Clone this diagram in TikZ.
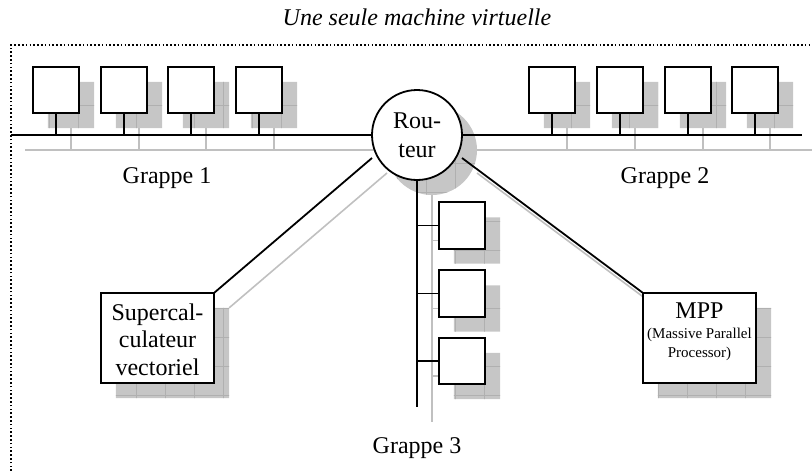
\documentclass[tikz,border=0pt]{standalone}
\usepackage{fontspec}
\setmainfont{Liberation Serif}
\usetikzlibrary{calc}
\definecolor{shfill}{RGB}{198,198,198}
\definecolor{shgrid}{RGB}{176,176,176}
\definecolor{shln}{RGB}{192,192,192}
\begin{document}
\begin{tikzpicture}[x=1pt,y=-1pt,
  pc/.style={draw=none, fill=none, minimum width=46pt, minimum height=46pt, inner sep=0pt},
  bigbox/.style={draw=none, fill=none, minimum width=113pt, minimum height=90pt, inner sep=0pt},
  bline/.style={draw=black, line width=1.8pt},
  outl/.style={draw=black, line width=1.8pt, fill=white},
  sline/.style={draw=shln, line width=1.6pt},
  lbl/.style={font=\fontsize{24}{28}\selectfont, inner sep=0pt, anchor=base},
  frame/.style={draw=black, line width=1.6pt, dash pattern=on 1.6pt off 2.2pt}]
\useasboundingbox (0,0) rectangle (812,471);

% coordinates
\coordinate (g1start) at (11,135);
\coordinate (g2end) at (802,135);
\coordinate (g3end) at (417,407);
\coordinate (rl) at (372,158);
\coordinate (rr) at (462,158);
\coordinate (fbl) at (11,471);
\coordinate (ftl) at (11,45);
\coordinate (ftr) at (812,45);

% node positions
\path
  (56,90) node[pc] (a1) {}
  (124,90) node[pc] (a2) {}
  (191,90) node[pc] (a3) {}
  (259,90) node[pc] (a4) {}
  (552,90) node[pc] (b1) {}
  (620,90) node[pc] (b2) {}
  (688,90) node[pc] (b3) {}
  (755,90) node[pc] (b4) {}
  (462,225.5) node[pc] (c1) {}
  (462,293.5) node[pc] (c2) {}
  (462,361) node[pc] (c3) {}
  (417,135) node[circle, minimum size=90pt, inner sep=0pt] (router) {}
  (157.5,338) node[bigbox] (super) {}
  (699.5,338) node[bigbox] (mpp) {};

% ---- shadows: lines
\draw[sline] ($(g1start)+(14,15)$) -- ($(router)+(15,15)$);
\draw[sline] ($(router)+(15,15)$) -- ($(g2end)+(15,15)$) -- ++(10,0);
\draw[sline] ($(router)+(15,15)$) -- ($(g3end)+(15,15)$);
\foreach \n in {a1,a2,a3,a4,b1,b2,b3,b4}
  \draw[sline] ($(\n.south)+(15,15)$) -- ($(\n.south)+(15,37)$);
\foreach \n in {c1,c2,c3}
  \draw[sline] ($(\n.west)+(-7,15)$) -- ($(\n.west)+(15,15)$);
\draw[sline] ($(super.north east)+(15,15)$) -- ($(rl)+(15,15)$);
\draw[sline] ($(mpp.north west)+(15,15)$) -- ($(rr)+(15,15)$);

% ---- shadows: textured fills
\begin{scope}
  \clip \foreach \n in {a1,a2,a3,a4,b1,b2,b3,b4,c1,c2,c3} {
      ($(\n.north west)+(15,15)$) rectangle ($(\n.south east)+(15,15)$) }
      ($(super.north west)+(15,15)$) rectangle ($(super.south east)+(15,15)$)
      ($(mpp.north west)+(15,15)$) rectangle ($(mpp.south east)+(15,15)$)
      ($(router)+(15,15)$) circle[radius=45];
  \fill[shfill] (0,0) rectangle (812,471);
  \foreach \i in {0,...,27} \draw[shgrid, line width=0.7pt] (20+29*\i,0) -- (20+29*\i,471);
  \foreach \i in {0,...,16} \draw[shgrid, line width=0.7pt] (0,18+29*\i) -- (812,18+29*\i);
\end{scope}

% ---- frame
\draw[frame] (fbl) -- (ftl) -- (ftr);

% ---- main lines
\draw[bline] (g1start) -- (router);
\draw[bline] (router) -- (g2end);
\draw[bline] (router) -- (g3end);
\foreach \n in {a1,a2,a3,a4,b1,b2,b3,b4}
  \draw[bline] (\n.south) -- (\n.south |- router);
\foreach \n in {c1,c2,c3}
  \draw[bline] (\n.west) -- (\n.west -| router);
\draw[bline] (super.north east) -- (rl);
\draw[bline] (mpp.north west) -- (rr);

% ---- boxes
\foreach \n in {a1,a2,a3,a4,b1,b2,b3,b4,c1,c2,c3}
  \draw[outl] (\n.north west) rectangle (\n.south east);
\draw[outl] (router) circle[radius=45];
\draw[outl] (super.north west) rectangle (super.south east);
\draw[outl] (mpp.north west) rectangle (mpp.south east);

% ---- texts
\node[lbl, font=\itshape\fontsize{24}{28}\selectfont] (title) at (417,25) {Une seule machine virtuelle};
\node[lbl] (rt1) at (417,128) {Rou-};
\node[lbl] (rt2) at (417,157) {teur};
\node[lbl] (st1) at (157.5,320) {Supercal-};
\node[lbl] (st2) at (157.5,347.5) {culateur};
\node[lbl] (st3) at (157.5,375) {vectoriel};
\node[lbl] (mt1) at (699.5,318) {MPP};
\node[lbl, font=\fontsize{15}{18}\selectfont] (mt2) at (699.5,338) {(Massive Parallel};
\node[lbl, font=\fontsize{15}{18}\selectfont] (mt3) at (699.5,357) {Processor)};
\node[lbl] (g1) at (167,183) {Grappe 1};
\node[lbl] (g2) at (665,183) {Grappe 2};
\node[lbl] (g3) at (417,453) {Grappe 3};
\end{tikzpicture}
\end{document}
